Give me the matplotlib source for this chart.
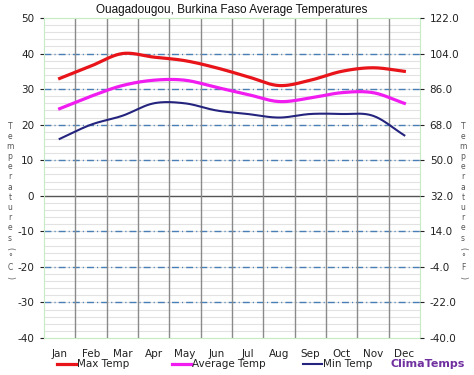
import matplotlib
matplotlib.use("Agg")
import matplotlib.pyplot as plt
import numpy as np

# data (deg C)
months = ["Jan", "Feb", "Mar", "Apr", "May", "Jun", "Jul", "Aug", "Sep", "Oct", "Nov", "Dec"]
max_temp = [33, 36.5, 40, 39, 38, 36, 33.5, 31, 32.5, 35, 36, 35]
avg_temp = [24.5, 28, 31, 32.5, 32.5, 30.5, 28.5, 26.5, 27.5, 29, 29, 26]
min_temp = [16, 20, 22.5, 26, 26, 24, 23, 22, 23, 23, 22.5, 17]
c_ticks = [50, 40, 30, 20, 10, 0, -10, -20, -30, -40]
f_labels = ["122.0", "104.0", "86.0", "68.0", "50.0", "32.0", "14.0", "-4.0", "-22.0", "-40.0"]


def smooth(x, y, n=20):
    # catmull-rom curve through the points, only for drawing
    x = np.asarray(x, float)
    y = np.asarray(y, float)
    px = np.concatenate([[2 * x[0] - x[1]], x, [2 * x[-1] - x[-2]]])
    py = np.concatenate([[2 * y[0] - y[1]], y, [2 * y[-1] - y[-2]]])
    xs, ys = [], []
    t = np.linspace(0, 1, n)
    for i in range(1, len(px) - 2):
        for p, out in ((px, xs), (py, ys)):
            p0, p1, p2, p3 = p[i - 1], p[i], p[i + 1], p[i + 2]
            out.extend(0.5 * (2 * p1 + (-p0 + p2) * t + (2 * p0 - 5 * p1 + 4 * p2 - p3) * t ** 2
                              + (-p0 + 3 * p1 - 3 * p2 + p3) * t ** 3))
    return xs, ys


fig = plt.figure(figsize=(4.74, 3.75), dpi=100)
ax = fig.add_axes([44 / 474, 1 - 338 / 375, 376 / 474, 320 / 375])

x = np.arange(len(months)) + 0.5
ax.set_xlim(0, 12)
ax.set_ylim(-40, 50)

# grid
for v in np.arange(-40, 51, 2):
    ax.axhline(v, color="#e2e2e2", lw=0.8, zorder=0)
for v in [40, 30, 20, 10, -10, -20, -30]:
    ax.axhline(v, color="#4a7fb5", lw=1.0, dashes=(5, 2.2, 0.8, 2.2), zorder=1)
ax.axhline(0, color="#555555", lw=1.0, zorder=1)
for v in range(1, 12):
    ax.axvline(v, color="#8a8a8a", lw=1.0, zorder=1)

ax.plot(*smooth(x, max_temp), color="#e8141a", lw=2.3, zorder=3)
ax.plot(*smooth(x, avg_temp), color="#f01cf0", lw=2.3, zorder=3)
ax.plot(*smooth(x, min_temp), color="#24247e", lw=1.5, zorder=3)

for s in ax.spines.values():
    s.set_color("#c6ecc6")

ax.set_xticks(x)
ax.set_xticklabels(months)
ax.set_yticks(c_ticks)
ax.set_yticklabels([str(v) for v in c_ticks])
ax.tick_params(axis="x", length=0, pad=8, labelsize=7.5, colors="#222222")
ax.tick_params(axis="y", length=3, pad=4, labelsize=7.5, colors="#222222")

ax2 = ax.twinx()
ax2.set_ylim(-40, 50)
ax2.set_yticks(c_ticks)
ax2.set_yticklabels(f_labels)
ax2.tick_params(axis="y", length=3, pad=4, labelsize=7.5, colors="#222222")
for s in ax2.spines.values():
    s.set_visible(False)

fig.text(232 / 474, 1 - 10 / 375, "Ouagadougou, Burkina Faso Average Temperatures",
         ha="center", va="center", fontsize=8.5, family="Liberation Sans", color="#111111")

# stacked axis titles
def stacked(xpix, unit):
    chars = list("Temperatures") + ["(", "°", unit, ")"]
    ypix = 126
    for ch in chars:
        rot = -90 if ch in "()" else 0
        fig.text(xpix / 474, 1 - ypix / 375, ch, ha="center", va="center", fontsize=5.5,
                 color="#555555", rotation=rot)
        ypix += 10.2 if ch != "(" else 9

stacked(10, "C")
stacked(463, "F")

# legend
legend = [("Max Temp", "#e8141a", 57, 2.3), ("Average Temp", "#f01cf0", 172, 2.3),
          ("Min Temp", "#24247e", 303, 1.5)]
ly = 1 - 364 / 375
for name, col, x0, lw in legend:
    fig.add_artist(plt.Line2D([x0 / 474, (x0 + 19) / 474], [ly, ly], color=col, lw=lw))
    fig.text((x0 + 20) / 474, ly, name, ha="left", va="center", fontsize=7.5, color="#222222")
fig.text(465 / 474, ly, "ClimaTemps", ha="right", va="center", fontsize=8, fontweight="bold",
         color="#7030a0")

fig.savefig("out.png", dpi=100)
